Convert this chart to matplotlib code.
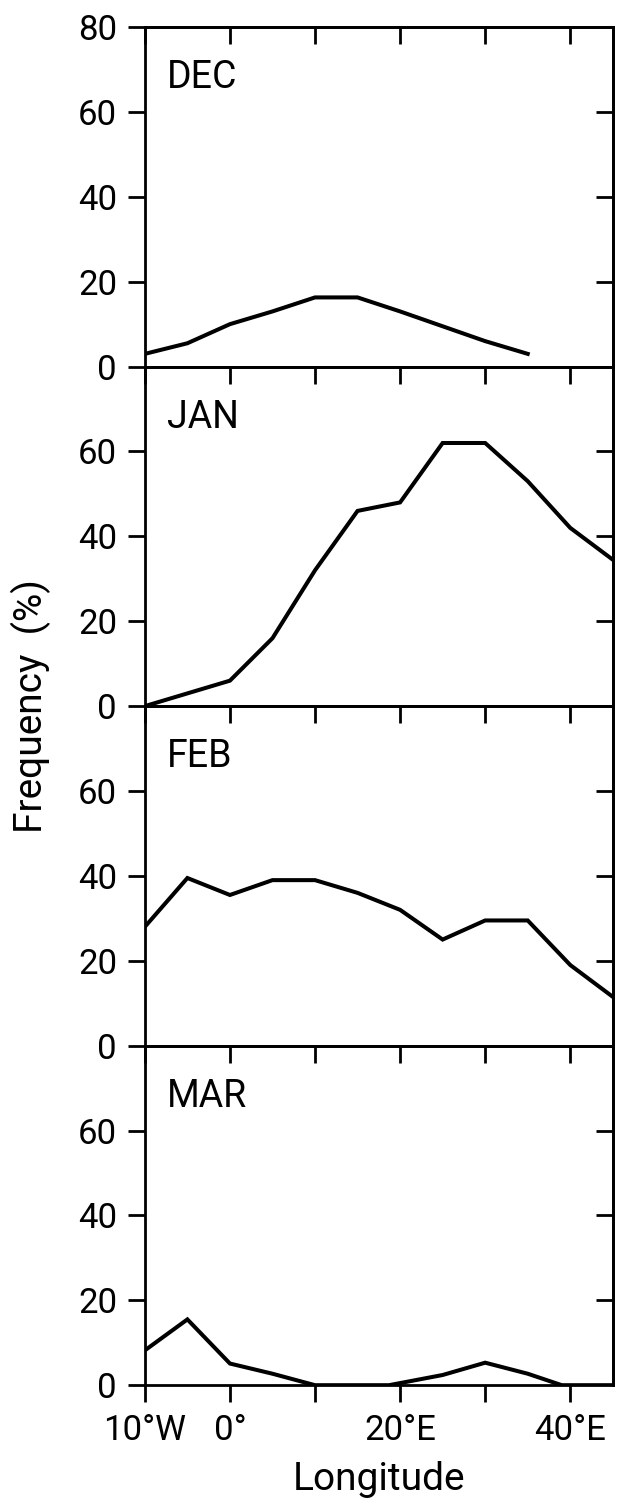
import matplotlib
matplotlib.use("Agg")
import matplotlib.pyplot as plt
import numpy as np

plt.rcParams['font.family'] = ['Roboto', 'DejaVu Sans']

lon = [-10, -5, 0, 5, 10, 15, 20, 25, 30, 35, 40, 45]
dec_lon = [-10, -5, 0, 5, 10, 15, 20, 25, 30, 35]
dec = [3, 5.5, 10, 13, 16.3, 16.3, 13, 9.5, 6, 3]
jan = [0, 3, 6, 16, 32, 46, 48, 62, 62, 53, 42, 34.5]
feb = [28, 39.5, 35.5, 39, 39, 36, 32, 25, 29.5, 29.5, 19, 11.5]
mar_lon = [-10, -5, 0, 5, 10, 15, 18.7, 25, 30, 35, 39, 45]
mar = [8.2, 15.5, 5.1, 2.7, 0, 0, 0, 2.4, 5.3, 2.7, 0, 0]
months = ["DEC", "JAN", "FEB", "MAR"]
xticks = [-10, 0, 10, 20, 30, 40]
xticklabels = ["10°W", "0°", "", "20°E", "", "40°E"]
yticks = [0, 20, 40, 60]

series = [(dec_lon, dec), (lon, jan), (lon, feb), (mar_lon, mar)]

fig = plt.figure(figsize=(6.19, 15.04), dpi=100)
gs = fig.add_gridspec(4, 1, left=0.234, right=0.990, top=0.982, bottom=0.079, hspace=0)

lw_spine = 2.0
tw = 2.0
fs = 25
for i, (name, (xs, ys)) in enumerate(zip(months, series)):
    ax = fig.add_subplot(gs[i])
    ax.plot(xs, ys, color='black', lw=2.9, solid_joinstyle='miter')
    ax.set_xlim(-10, 45)
    ax.set_ylim(0, 80)
    for s in ax.spines.values():
        s.set_linewidth(lw_spine)
    last = (i == 3)
    ax.set_xticks(xticks)
    ax.tick_params(axis='x', which='both', top=False, bottom=last, direction='out',
                   length=12, width=tw, labelbottom=last, labelsize=fs, pad=9)
    if last:
        ax.set_xticklabels(xticklabels)
    sec = ax.secondary_xaxis('top')
    sec.set_xticks(xticks)
    sec.tick_params(axis='x', direction='in', length=12, width=tw, labeltop=False)
    sec.spines['top'].set_linewidth(lw_spine)

    yt = yticks + [80] if i == 0 else yticks
    ax.set_yticks(yt)
    ax.tick_params(axis='y', direction='out', length=12, width=tw, labelsize=fs, pad=8)
    secy = ax.secondary_yaxis('right')
    secy.set_yticks([20, 40, 60])
    secy.tick_params(axis='y', direction='in', length=12, width=tw, labelright=False)
    secy.spines['right'].set_linewidth(lw_spine)

    ax.text(0.047, 0.905, name, transform=ax.transAxes, fontsize=27, ha='left', va='top')
    if last:
        ax.set_xlabel("Longitude", fontsize=28, labelpad=10)

fig.text(0.050, (0.982 + 0.079) / 2, "Frequency  (%)", rotation=90, fontsize=28,
         ha='center', va='center')

fig.savefig("out.png", dpi=100, facecolor='white')
